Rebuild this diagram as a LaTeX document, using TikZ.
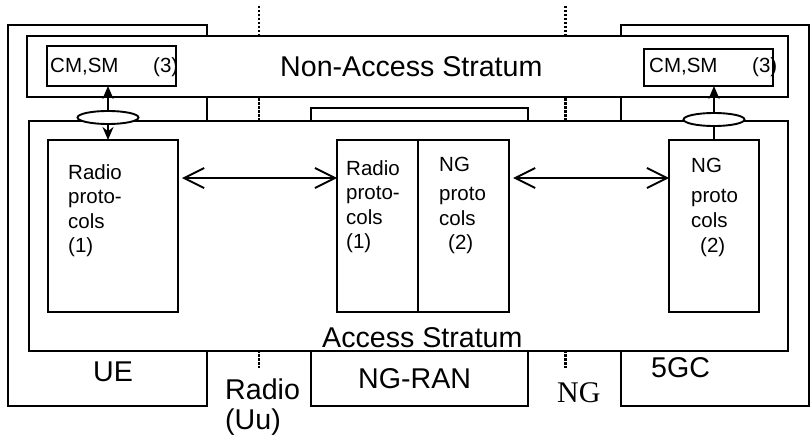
\documentclass[tikz,border=0pt]{standalone}
\usepackage{fontspec}
\setmainfont{Liberation Sans}
\newfontfamily\serifnf{Liberation Serif}
\usetikzlibrary{arrows.meta,shapes.geometric}
\begin{document}
\begin{tikzpicture}[x=1pt,y=-1pt,
  box/.style={draw, line width=1.9pt, inner sep=0pt, outer sep=0pt, anchor=north west, fill=white},
  ell/.style={draw, line width=1.9pt, ellipse, fill=white, inner sep=0pt, minimum width=61pt, minimum height=13pt},
  dots/.style={line width=2.6pt, dash pattern=on 2.5pt off 1.5pt},
  txt/.style={anchor=base west, inner sep=0pt, font=\fontsize{20.5}{24}\selectfont},
  big/.style={anchor=base west, inner sep=0pt, font=\fontsize{28.6}{34}\selectfont},
  vtip/.style={line width=1.9pt},
  hdbl/.style={line width=1.9pt, {Straight Barb[length=20pt,width=20pt]}-{Straight Barb[length=20pt,width=20pt]}}
]
\useasboundingbox (0,0) rectangle (811,444);
% outer node boxes
\node[box, minimum width=199pt, minimum height=381pt] (ue) at (8,25) {};
\node[box, minimum width=188pt, minimum height=381pt] (cn) at (621,25) {};
\node[box, minimum width=217pt, minimum height=298pt] (ran) at (311,108) {};
% dotted reference points
\coordinate (d1t) at (259,6);
\coordinate (d1b) at (259,368);
\coordinate (d2t) at (565.5,6);
\coordinate (d2b) at (565.5,368);
\draw[dots] (d1t) -- (d1b);
\draw[dots] (d2t) -- (d2b);
% strata
\node[box, minimum width=761pt, minimum height=61pt] (nas) at (27,36) {};
\node[box, minimum width=759pt, minimum height=230pt] (as) at (29,121) {};
% inner boxes
\node[box, minimum width=129pt, minimum height=40pt] (cmL) at (47,46) {};
\node[box, minimum width=129pt, minimum height=37pt] (cmR) at (644,49) {};
\node[box, minimum width=130pt, minimum height=172pt] (rpL) at (48,140) {};
\node[box, minimum width=81pt, minimum height=172pt] (midA) at (337,140) {};
\node[box, minimum width=91pt, minimum height=172pt] (midB) at (418,140) {};
\node[box, minimum width=90pt, minimum height=172pt] (ngR) at (669,140) {};
% vertical connectors
\coordinate (ellLc) at (108,117.5);
\coordinate (ellRc) at (714,119.5);
\draw[vtip, {Stealth[length=13pt,width=11pt]}-{Stealth[length=13pt,width=11pt]}] (ellLc |- cmL.south) -- (ellLc |- rpL.north);
\draw[vtip, -{Stealth[length=13pt,width=11pt]}] (ellRc |- ngR.north) -- (ellRc |- cmR.south);
\node[ell] (ellL) at (ellLc) {};
\node[ell] (ellR) at (ellRc) {};
% horizontal connectors
\coordinate (ya) at (0,178);
\draw[hdbl, shorten <=4pt] (rpL.east |- ya) -- (midA.west |- ya);
\draw[hdbl, shorten <=4pt] (midB.east |- ya) -- (ngR.west |- ya);
% texts
\node[txt] (cmLa) at (50,72) {CM,SM};
\node[txt] (cmLb) at (153,72) {(3)};
\node[txt] (cmRa) at (649,72) {CM,SM};
\node[txt] (cmRb) at (752,72) {(3)};
\node[big] (nasT) at (280,77) {Non-Access Stratum};
\node[big] (asT) at (322,347) {Access Stratum};
\node[txt] (r1) at (68,179) {Radio};
\node[txt] (r2) at (68,203.5) {proto-};
\node[txt] (r3) at (68,228) {cols};
\node[txt] (r4) at (68,252) {(1)};
\node[txt] (m1) at (346,175) {Radio};
\node[txt] (m2) at (346,199.5) {proto-};
\node[txt] (m3) at (346,224) {cols};
\node[txt] (m4) at (346,248) {(1)};
\node[txt] (n1) at (439,171) {NG};
\node[txt] (n2) at (439,200) {proto};
\node[txt] (n3) at (439,225) {cols};
\node[txt] (n4) at (448,249) {(2)};
\node[txt] (g1) at (691,172) {NG};
\node[txt] (g2) at (691,202) {proto};
\node[txt] (g3) at (691,227) {cols};
\node[txt] (g4) at (700,252) {(2)};
\node[big] (ueT) at (93,381) {UE};
\node[big] (uuA) at (225,399) {Radio};
\node[big] (uuB) at (225,429) {(Uu)};
\node[big] (ranT) at (358,388) {NG-RAN};
\node[big] (cnT) at (651,377) {5GC};
\node[anchor=base west, inner sep=0pt, font=\serifnf\fontsize{30}{36}\selectfont] (ngT) at (557,402) {NG};
\end{tikzpicture}
\end{document}
